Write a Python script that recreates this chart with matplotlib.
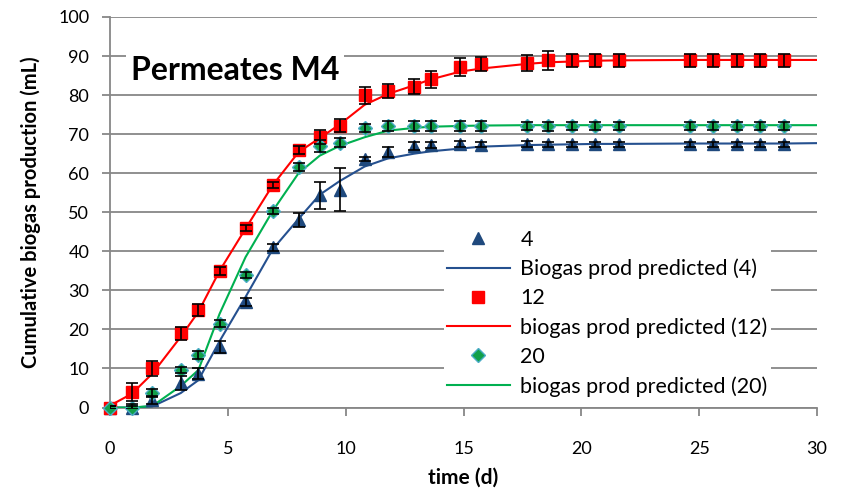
import matplotlib.pyplot as plt

plt.rcParams['font.family'] = ['Lato', 'DejaVu Sans']

# measurement times (d)
t = [0, 0.92, 1.8, 3.0, 3.75, 4.65, 5.75, 6.9, 8.0, 8.9, 9.75, 10.8, 11.8, 12.9,
     13.6, 14.85, 15.75, 17.7, 18.6, 19.6, 20.6, 21.6, 24.6, 25.6, 26.6, 27.6, 28.6]
t_pred = t + [30]

# series "4"
y4 = [0, 0, 2.0, 6.2, 8.6, 15.5, 27.0, 41.0, 48.0, 54.3, 55.8, 63.6, 65.4, 67.0,
      67.3, 67.4, 67.3, 67.4, 67.4, 67.4, 67.4, 67.4, 67.4, 67.4, 67.4, 67.4, 67.4]
e4 = [0.3, 1.0, 1.0, 1.8, 1.4, 1.5, 1.0, 0.8, 1.8, 3.5, 5.5, 0.6, 1.3, 1.0,
      0.8, 0.8, 0.6, 0.8, 0.6, 0.6, 0.6, 0.6, 0.6, 0.6, 0.6, 0.6, 0.6]
p4 = [0, 0, 0.3, 3.7, 7.0, 17.0, 28.3, 40.5, 48.3, 54.5, 58.0, 61.7, 63.8, 65.0,
      65.6, 66.3, 66.8, 67.2, 67.3, 67.4, 67.5, 67.5, 67.6, 67.6, 67.6, 67.6, 67.6, 67.7]

# series "12"
y12 = [0, 4.0, 10.0, 19.0, 25.0, 35.0, 46.0, 57.0, 66.0, 69.3, 72.2, 80.0, 81.0, 82.2,
       84.0, 87.2, 88.0, 88.2, 88.9, 88.9, 88.9, 88.9, 88.9, 88.9, 88.9, 88.9, 88.9]
e12 = [0.5, 2.2, 1.8, 1.6, 1.5, 1.0, 0.8, 0.8, 1.0, 1.8, 1.75, 2.2, 1.8, 2.0,
       2.2, 2.2, 1.8, 2.0, 2.5, 1.6, 1.6, 1.6, 1.6, 1.6, 1.6, 1.6, 1.6]
p12 = [0.5, 3.5, 8.7, 18.1, 24.5, 35.0, 45.8, 56.9, 65.4, 69.0, 72.5, 77.5, 80.3, 82.5,
       84.0, 86.0, 86.8, 88.0, 88.4, 88.6, 88.8, 88.9, 89.0, 89.0, 89.0, 89.0, 89.0, 89.0]

# series "20"
y20 = [0, 0, 3.8, 9.6, 13.4, 21.5, 34.0, 50.3, 61.6, 67.0, 67.8, 71.6, 72.1, 72.1,
       72.1, 72.1, 72.1, 72.1, 72.0, 72.0, 72.0, 72.0, 72.0, 72.0, 72.0, 72.0, 72.0]
e20 = [0.3, 0.5, 1.0, 0.8, 1.0, 1.0, 0.8, 0.8, 1.0, 1.5, 1.2, 1.0, 1.2, 1.2,
       1.2, 1.2, 1.2, 1.0, 1.2, 1.0, 1.0, 1.0, 1.0, 1.0, 1.0, 1.0, 1.0]
p20 = [0, 0, 0.4, 5.5, 9.6, 24.0, 38.5, 50.3, 60.0, 64.5, 67.0, 69.2, 70.9, 71.6,
       71.9, 72.1, 72.2, 72.3, 72.3, 72.3, 72.3, 72.3, 72.3, 72.3, 72.3, 72.3, 72.3, 72.3]

fig = plt.figure(figsize=(8.41, 4.91), dpi=100)
ax = fig.add_axes([0.1308, 0.170, 0.8407, 0.7954])

grey = '#878787'
blue = '#1f497d'

# model lines
ax.plot(t_pred, p4, color='#25508f', lw=1.5, zorder=3)
ax.plot(t_pred, p12, color='#ff0000', lw=1.5, zorder=3)
ax.plot(t_pred, p20, color='#00b050', lw=1.5, zorder=3)

# measured points
m4, = ax.plot(t, y4, ls='none', marker='^', ms=9, color=blue, clip_on=False, zorder=4)
m12, = ax.plot(t, y12, ls='none', marker='s', ms=8.5, color='#ff0000', clip_on=False, zorder=4)
m20, = ax.plot(t, y20, ls='none', marker='D', ms=7, mfc='#12a04a', mec='#4bacc6',
               mew=1.0, clip_on=False, zorder=4)

for yy, ee in [(y4, e4), (y12, e12), (y20, e20)]:
    ax.errorbar(t, yy, yerr=ee, fmt='none', ecolor='black', elinewidth=1.2,
                capsize=4, capthick=1.2, zorder=5)

l4, = ax.plot([], [], color='#25508f', lw=1.5)
l12, = ax.plot([], [], color='#ff0000', lw=1.5)
l20, = ax.plot([], [], color='#00b050', lw=1.5)

ax.set_xlim(0, 30)
ax.set_ylim(0, 100)
ax.set_xticks(range(0, 31, 5))
ax.set_yticks(range(0, 101, 10))
ax.grid(axis='y', color=grey, lw=1.3)
ax.set_axisbelow(True)
for s in ['top', 'right']:
    ax.spines[s].set_visible(False)
for s in ['left', 'bottom']:
    ax.spines[s].set_color(grey)
    ax.spines[s].set_linewidth(1.3)
ax.tick_params(axis='both', colors=grey, length=6, width=1.3, labelcolor='black', labelsize=13)
ax.tick_params(axis='x', pad=18)
ax.tick_params(axis='y', pad=9)

ax.set_xlabel('time (d)', fontweight='bold', fontsize=15, labelpad=8)
ax.set_ylabel('Cumulative biogas production (mL)', fontweight='bold', fontsize=14.5, labelpad=12)

ax.text(5.3, 86.3, 'Permeates M4', fontsize=23, fontweight='bold', ha='center', va='center',
        zorder=6, bbox=dict(boxstyle='square,pad=0.15', fc='white', ec='none'))

leg = ax.legend([m4, l4, m12, l12, m20, l20],
                ['4', 'Biogas prod predicted (4)', '12', 'biogas prod predicted (12)',
                 '20', 'biogas prod predicted (20)'],
                loc='lower right', bbox_to_anchor=(0.95, -0.008), fontsize=15.5,
                frameon=True, fancybox=False, edgecolor='none', framealpha=1,
                handlelength=2.9, handletextpad=0.5, labelspacing=0.42, borderpad=0.15)
leg.set_zorder(7)

fig.savefig('out.png', dpi=100)
